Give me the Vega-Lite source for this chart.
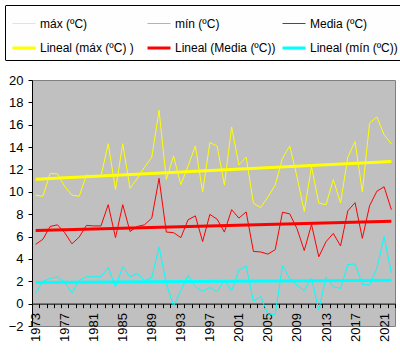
{
  "$schema": "https://vega.github.io/schema/vega-lite/v6.json",
  "width": 363,
  "height": 246,
  "autosize": {"type": "none"},
  "padding": {"left": 32, "top": 80, "right": 5, "bottom": 31},
  "background": "white",
  "datasets": {
    "temperaturas": [
      {"year": 1973, "maxima": 9.7, "minima": 0.96, "media": 5.3},
      {"year": 1974, "maxima": 9.6, "minima": 2.0, "media": 5.75},
      {"year": 1975, "maxima": 11.65, "minima": 2.25, "media": 6.9},
      {"year": 1976, "maxima": 11.6, "minima": 2.4, "media": 7.05},
      {"year": 1977, "maxima": 10.5, "minima": 1.9, "media": 6.35},
      {"year": 1978, "maxima": 9.7, "minima": 0.96, "media": 5.35},
      {"year": 1979, "maxima": 9.6, "minima": 2.1, "media": 5.95},
      {"year": 1980, "maxima": 11.5, "minima": 2.4, "media": 7.0},
      {"year": 1981, "maxima": 11.4, "minima": 2.4, "media": 6.95},
      {"year": 1982, "maxima": 11.4, "minima": 2.4, "media": 6.95},
      {"year": 1983, "maxima": 14.3, "minima": 3.25, "media": 8.85},
      {"year": 1984, "maxima": 10.2, "minima": 1.5, "media": 5.9},
      {"year": 1985, "maxima": 14.3, "minima": 3.3, "media": 8.85},
      {"year": 1986, "maxima": 10.3, "minima": 2.4, "media": 6.45},
      {"year": 1987, "maxima": 11.2, "minima": 2.7, "media": 6.9},
      {"year": 1988, "maxima": 12.2, "minima": 2.05, "media": 7.05},
      {"year": 1989, "maxima": 13.1, "minima": 2.3, "media": 7.65},
      {"year": 1990, "maxima": 17.3, "minima": 5.1, "media": 11.2},
      {"year": 1991, "maxima": 11.1, "minima": 1.8, "media": 6.4},
      {"year": 1992, "maxima": 13.2, "minima": -0.2, "media": 6.35},
      {"year": 1993, "maxima": 10.65, "minima": 1.15, "media": 5.9},
      {"year": 1994, "maxima": 12.3, "minima": 2.55, "media": 7.5},
      {"year": 1995, "maxima": 14.1, "minima": 1.5, "media": 7.85},
      {"year": 1996, "maxima": 10.0, "minima": 1.1, "media": 5.55},
      {"year": 1997, "maxima": 14.4, "minima": 1.45, "media": 7.98},
      {"year": 1998, "maxima": 14.1, "minima": 1.06, "media": 7.55},
      {"year": 1999, "maxima": 10.6, "minima": 2.1, "media": 6.4},
      {"year": 2000, "maxima": 15.8, "minima": 1.15, "media": 8.4},
      {"year": 2001, "maxima": 12.4, "minima": 3.0, "media": 7.65},
      {"year": 2002, "maxima": 13.1, "minima": 3.35, "media": 8.2},
      {"year": 2003, "maxima": 8.97, "minima": 0.2, "media": 4.67},
      {"year": 2004, "maxima": 8.6, "minima": 0.65, "media": 4.62},
      {"year": 2005, "maxima": 9.55, "minima": -0.95, "media": 4.43},
      {"year": 2006, "maxima": 10.6, "minima": -0.96, "media": 4.83},
      {"year": 2007, "maxima": 13.0, "minima": 3.39, "media": 8.17},
      {"year": 2008, "maxima": 14.1, "minima": 2.25, "media": 8.03},
      {"year": 2009, "maxima": 11.35, "minima": 1.66, "media": 6.7},
      {"year": 2010, "maxima": 8.25, "minima": 1.15, "media": 4.75},
      {"year": 2011, "maxima": 12.25, "minima": 2.3, "media": 7.08},
      {"year": 2012, "maxima": 9.0, "minima": -0.58, "media": 4.19},
      {"year": 2013, "maxima": 8.85, "minima": 2.4, "media": 5.54},
      {"year": 2014, "maxima": 11.1, "minima": 1.5, "media": 6.28},
      {"year": 2015, "maxima": 9.0, "minima": 1.36, "media": 5.16},
      {"year": 2016, "maxima": 13.1, "minima": 3.5, "media": 8.3},
      {"year": 2017, "maxima": 14.5, "minima": 3.55, "media": 9.03},
      {"year": 2018, "maxima": 10.0, "minima": 1.72, "media": 5.84},
      {"year": 2019, "maxima": 16.15, "minima": 1.66, "media": 8.75},
      {"year": 2020, "maxima": 16.7, "minima": 3.15, "media": 10.05},
      {"year": 2021, "maxima": 15.1, "minima": 6.0, "media": 10.45},
      {"year": 2022, "maxima": 14.3, "minima": 2.73, "media": 8.4}
    ],
    "nombres_serie": [
      {"clave": "maxima", "etiqueta": "máx (ºC)"},
      {"clave": "minima", "etiqueta": "mín (ºC)"},
      {"clave": "media", "etiqueta": "Media (ºC)"}
    ],
    "nombres_tendencia": [
      {"clave": "maxima", "etiqueta": "Lineal (máx (ºC) )"},
      {"clave": "minima", "etiqueta": "Lineal (mín (ºC))"},
      {"clave": "media", "etiqueta": "Lineal (Media (ºC))"}
    ]
  },
  "data": {"name": "temperaturas"},
  "transform": [
    {"fold": ["maxima", "minima", "media"], "as": ["clave", "valor"]}
  ],
  "encoding": {
    "x": {
      "field": "year",
      "type": "ordinal",
      "bandPosition": 0.5,
      "scale": {"type": "band", "paddingInner": 0, "paddingOuter": 0},
      "axis": {
        "title": null,
        "tickBand": "extent",
        "labelExpr": "(datum.value - 1973) % 4 == 0 ? datum.label : ''",
        "labelAngle": 270,
        "labelOverlap": false,
        "tickSize": 4,
        "labelPadding": 5,
        "offset": -22.36
      }
    },
    "y": {
      "field": "valor",
      "type": "quantitative",
      "scale": {"domain": [-2, 20], "nice": false, "zero": false},
      "axis": {
        "title": null,
        "values": [-2, 0, 2, 4, 6, 8, 10, 12, 14, 16, 18, 20],
        "tickSize": 4,
        "labelPadding": 5
      }
    },
    "color": {
      "field": "etiqueta",
      "type": "nominal",
      "legend": {"title": null},
      "scale": {
        "domain": ["máx (ºC)", "mín (ºC)", "Media (ºC)", "Lineal (máx (ºC) )", "Lineal (Media (ºC))", "Lineal (mín (ºC))"],
        "range": ["#FFFF00", "#00FFFF", "#FF0000", "#FFFF00", "#FF0000", "#00FFFF"]
      }
    },
    "strokeWidth": {
      "field": "etiqueta",
      "type": "nominal",
      "legend": {"title": null},
      "scale": {
        "type": "ordinal",
        "domain": ["máx (ºC)", "mín (ºC)", "Media (ºC)", "Lineal (máx (ºC) )", "Lineal (Media (ºC))", "Lineal (mín (ºC))"],
        "range": [1, 1, 1, 3, 3, 3]
      }
    }
  },
  "layer": [
    {
      "transform": [
        {"lookup": "clave", "from": {"data": {"name": "nombres_serie"}, "key": "clave", "fields": ["etiqueta"]}}
      ],
      "mark": {"type": "line"}
    },
    {
      "transform": [
        {"regression": "valor", "on": "year", "groupby": ["clave"]},
        {"lookup": "clave", "from": {"data": {"name": "nombres_tendencia"}, "key": "clave", "fields": ["etiqueta"]}}
      ],
      "mark": {"type": "line"}
    }
  ],
  "config": {
    "view": {"fill": "#C0C0C0", "stroke": "#808080", "strokeWidth": 1},
    "axis": {
      "labelFont": "Liberation Sans",
      "labelFontSize": 13,
      "labelColor": "black",
      "domainColor": "black",
      "tickColor": "black",
      "grid": false
    },
    "legend": {
      "orient": "none",
      "legendX": -27,
      "legendY": -75,
      "strokeColor": "black",
      "strokeWidth": 1,
      "fillColor": "#FEFEFE",
      "cornerRadius": 0.5,
      "padding": 6,
      "direction": "horizontal",
      "columns": 3,
      "gridAlign": "all",
      "symbolType": "stroke",
      "symbolSize": 529,
      "labelFont": "Liberation Sans",
      "labelFontSize": 12,
      "labelColor": "black",
      "labelOffset": 3,
      "labelLimit": 200,
      "columnPadding": 0,
      "rowPadding": 5
    }
  }
}
